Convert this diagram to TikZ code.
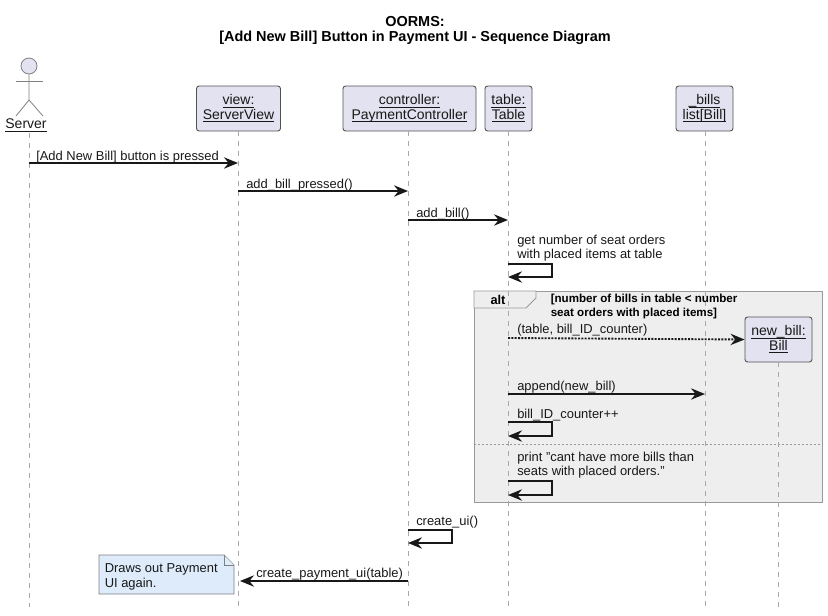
\documentclass[tikz,border=0pt]{standalone}
\usepackage{fontspec}
\usepackage{xcolor}
\usetikzlibrary{arrows.meta}
\setmainfont{Liberation Sans}
\definecolor{ink}{HTML}{181818}
\definecolor{boxfill}{HTML}{E2E2F0}
\definecolor{framefill}{HTML}{EEEEEF}
\definecolor{framedraw}{HTML}{999999}
\definecolor{lifedraw}{HTML}{A8A8A8}
\definecolor{notefill}{HTML}{DDEBFB}
\definecolor{notedraw}{HTML}{7F7F7F}
\newsavebox{\ulbox}
\newcommand{\ul}[1]{\leavevmode\sbox{\ulbox}{#1}\rlap{\rule[-2.3pt]{\wd\ulbox}{0.6pt}}\usebox{\ulbox}}
\tikzset{
  party/.style={draw=ink!75, line width=0.7pt, fill=boxfill, rounded corners=2pt, align=center,
    text=ink, font=\fontsize{10.5}{10.6}\selectfont, inner sep=0pt, minimum height=33.75pt},
  actorlbl/.style={text=ink, font=\fontsize{10.5}{10.6}\selectfont, inner sep=0pt},
  stick/.style={draw=ink!55, line width=0.6pt},
  life/.style={draw=lifedraw, line width=0.6pt, dash pattern=on 3.75pt off 3.75pt},
  msg/.style={draw=ink, line width=1.4pt, -{Stealth[length=10.5pt, width=8.5pt, inset=3.5pt]}},
  dotmsg/.style={msg, dash pattern=on 1.5pt off 1pt},
  lbl/.style={text=ink, font=\fontsize{9.7}{10}\selectfont, anchor=base west, inner sep=0pt},
  grd/.style={text=black, font=\fontsize{8.7}{9.8}\selectfont\bfseries, anchor=base west, inner sep=0pt},
  framebox/.style={draw=framedraw, line width=0.7pt, fill=framefill},
  notebox/.style={draw=notedraw, line width=0.6pt, fill=notefill}
}

\begin{document}
\begin{tikzpicture}[x=0.75pt, y=-0.75pt]
  \useasboundingbox (0,0) rectangle (828,615);

  \node[font=\fontsize{10.85}{11.2}\selectfont\bfseries, align=center, inner sep=0pt] (title) at (415,30.5)
    {OORMS:\\{}[Add New Bill] Button in Payment UI - Sequence Diagram};

  % alt frame goes under the lifelines
  \draw[framebox] (474,291) rectangle (822,502);
  \draw[framebox] (474,291) -- (536,291) -- (536,298) -- (526,308) -- (474,308) -- cycle;
  \draw[draw=framedraw, line width=0.6pt, dash pattern=on 1.5pt off 1.5pt] (474,444) -- (822,444);

  % participants
  \node[party, minimum width=63pt] (view) at (238.5,108.5) {\ul{view:}\\\ul{ServerView}};
  \node[party, minimum width=99.75pt] (controller) at (409.5,108.5) {\ul{controller:}\\\ul{PaymentController}};
  \node[party, minimum width=35.25pt] (table) at (508.5,108.5) {\ul{table:}\\\ul{Table}};
  \node[party, minimum width=42.75pt] (bills) at (704.5,108.5) {\ul{\_bills}\\\ul{list[Bill]}};
  \node[party, minimum width=50.25pt] (newbill) at (778.5,339.5) {\ul{new\_bill:}\\\ul{Bill}};

  % actor
  \node[actorlbl] (server) at (26,125.5) {\ul{Server}};
  \node[circle, stick, fill=boxfill, minimum size=12pt, inner sep=0pt] (head) at (29,66) {};
  \coordinate (hip) at (29,100);
  \coordinate (handl) at (16,81);
  \coordinate (handr) at (43,81);
  \coordinate (footl) at (16,116);
  \coordinate (footr) at (43,116);
  \draw[stick] (head) -- (hip) -- (footl);
  \draw[stick] (hip) -- (footr);
  \draw[stick] (handl) -- (handr);

  % lifelines
  \coordinate (bottom) at (0,607);
  \coordinate (srv) at (29,133);
  \coordinate (vw) at (238,0);
  \coordinate (ctl) at (408,0);
  \coordinate (tbl) at (508,0);
  \coordinate (bl) at (705,0);
  \draw[life] (srv) -- (srv |- bottom);
  \draw[life] (view.south -| vw) -- (vw |- bottom);
  \draw[life] (controller.south -| ctl) -- (ctl |- bottom);
  \draw[life] (table.south -| tbl) -- (tbl |- bottom);
  \draw[life] (bills.south -| bl) -- (bl |- bottom);
  \draw[life] (newbill) -- (newbill |- bottom);

  % messages
  \draw[msg] (srv |- 0,163) -- (vw |- 0,163);
  \node[lbl] (m1) at (36,160) {[Add New Bill] button is pressed};

  \draw[msg] (vw |- 0,191) -- (ctl |- 0,191);
  \node[lbl] (m2) at (246,188) {add\_bill\_pressed()};

  \draw[msg] (ctl |- 0,220) -- (tbl |- 0,220);
  \node[lbl] (m3) at (416,217) {add\_bill()};

  \node[lbl] (m4a) at (517,244) {get number of seat orders};
  \node[lbl] (m4b) at (517,258) {with placed items at table};
  \draw[msg] (tbl |- 0,264) -- (552,264) -- (552,277) -- (tbl |- 0,277);

  \node[font=\fontsize{9.6}{11}\selectfont\bfseries, inner sep=0pt] (alt) at (498,299.5) {alt};
  \node[grd] (g1) at (550.5,302.5) {[number of bills in table < number};
  \node[grd] (g2) at (550.5,316) {seat orders with placed items]};

  \node[lbl] (m5) at (517,333) {(table, bill\_ID\_counter)};
  \draw[dotmsg] (tbl |- 0,338) -- (newbill.west);

  \node[lbl] (m6) at (517,390) {append(new\_bill)};
  \draw[msg] (tbl |- 0,394) -- (bl |- 0,394);

  \node[lbl] (m7) at (517,418) {bill\_ID\_counter++};
  \draw[msg] (tbl |- 0,422) -- (552,422) -- (552,436) -- (tbl |- 0,436);

  \node[lbl] (m8a) at (517,461) {print "cant have more bills than};
  \node[lbl] (m8b) at (517,475) {seats with placed orders."};
  \draw[msg] (tbl |- 0,481) -- (552,481) -- (552,495) -- (tbl |- 0,495);

  \node[lbl] (m9) at (416,525) {create\_ui()};
  \draw[msg] (ctl |- 0,530) -- (452,530) -- (452,543) -- (ctl |- 0,543);

  \node[lbl] (m10) at (256,577) {create\_payment\_ui(table)};
  \draw[msg] (ctl |- 0,581) -- (240,581);

  % note
  \draw[notebox] (99,555) -- (224,555) -- (234,565) -- (234,594) -- (99,594) -- cycle;
  \draw[notebox] (224,555) -- (224,565) -- (234,565);
  \node[lbl] (n1) at (104.5,572) {Draws out Payment};
  \node[lbl] (n2) at (104.5,587) {UI again.};
\end{tikzpicture}
\end{document}
